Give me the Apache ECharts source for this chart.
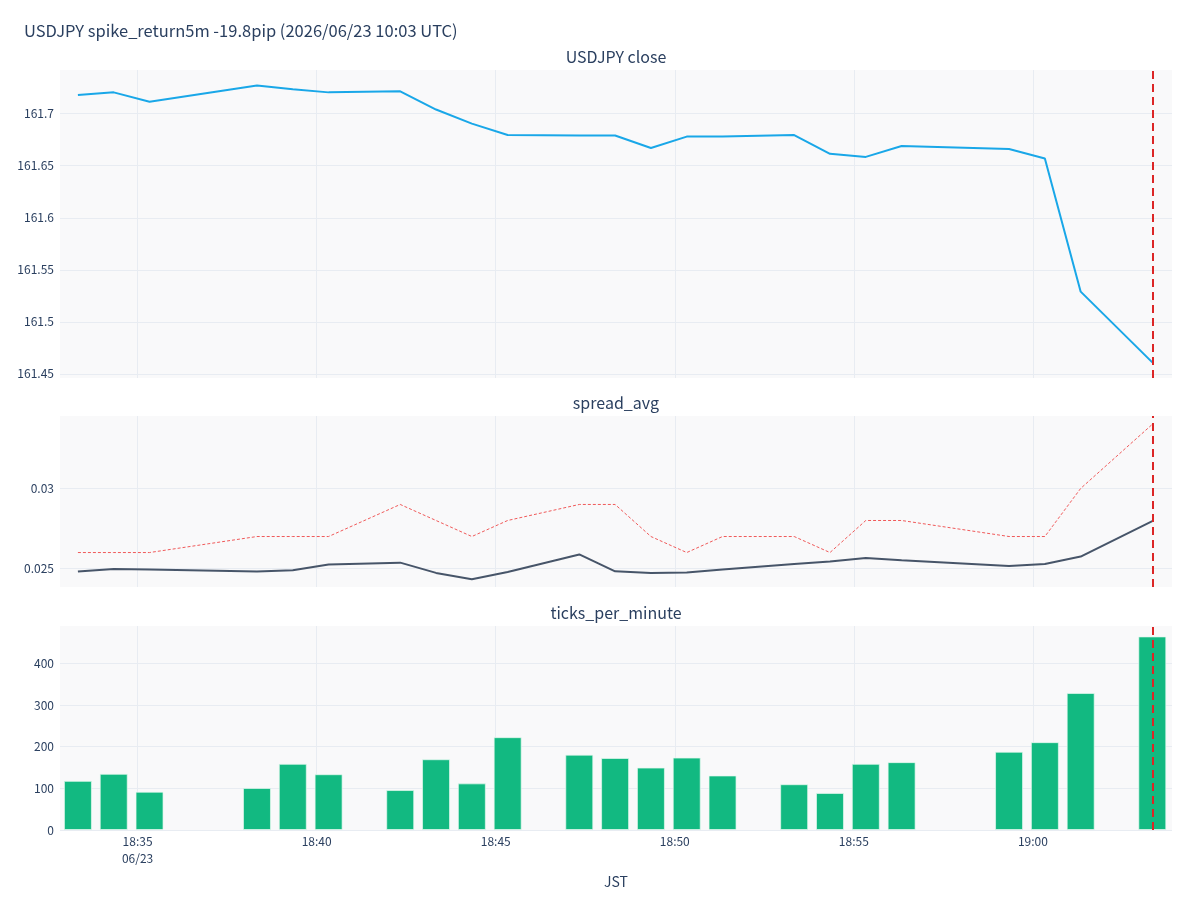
<!DOCTYPE html>
<html lang="ja">
<head>
	<meta charset="UTF-8">
	<title>USDJPY spike</title>
	<script src="https://cdn.jsdelivr.net/npm/echarts@6/dist/echarts.min.js"></script>
	<style>
		html,body{margin:0;padding:0;background:#fff;}
		#main{width:1200px;height:900px;}
	</style>
</head>
<body>
	<div id="main"></div>
	<script>
		var day = '2026-06-23';
		// JST minutes with data
		var times = ['18:33:20','18:34:20','18:35:20','18:38:20','18:39:20','18:40:20','18:42:20','18:43:20','18:44:20','18:45:20',
			'18:47:20','18:48:20','18:49:20','18:50:20','18:51:20','18:53:20','18:54:20','18:55:20','18:56:20','18:59:20',
			'19:00:20','19:01:20','19:03:20'];
		var closeVals = [161.718,161.7205,161.7115,161.727,161.7235,161.7205,161.7215,161.704,161.6905,161.6795,
			161.679,161.679,161.667,161.678,161.678,161.6795,161.6615,161.6585,161.669,161.666,
			161.657,161.529,161.461];
		var spreadAvg = [0.02481,0.02498,0.02494,0.02481,0.02489,0.02525,0.02537,0.02473,0.02433,0.02479,
			0.02588,0.02483,0.02473,0.02475,0.02494,0.02529,0.02544,0.02566,0.02552,0.02516,
			0.02529,0.02575,0.02796];
		var spreadMax = [0.026,0.026,0.026,0.027,0.027,0.027,0.029,0.028,0.027,0.028,
			0.029,0.029,0.027,0.026,0.027,0.027,0.026,0.028,0.028,0.027,
			0.027,0.030,0.034];
		var ticksPerMin = [118,135,92,101,159,134,96,170,112,223,
			181,173,150,174,131,110,89,159,163,188,
			211,329,465];
		var spikeTime = '19:03:20';
		var xTickTimes = ['18:35','18:40','18:45','18:50','18:55','19:00'];
		var priceTicks = [161.45,161.5,161.55,161.6,161.65,161.7];
		var spreadTicks = [0.025,0.03];
		var countTicks = [0,100,200,300,400];

		// times -> ms since midnight (JST wall clock), value axis
		function ts(t){
			var p = t.split(':');
			return ((+p[0])*3600 + (+p[1])*60 + (+(p[2]||0)))*1000;
		}
		function pairs(vals){
			var out = [];
			for(var i=0;i<times.length;i++){
				out.push([ts(times[i]), vals[i]]);
			}
			return out;
		}
		var xTicks = xTickTimes.map(ts);
		var xMin = ts('18:32:50');
		var xMax = ts('19:03:53');
		var txt = '#2a3f5f';
		var gridCol = '#e8ecf2';
		var font = '"Noto Sans CJK JP", "Noto Sans", sans-serif';

		function xAx(idx, labels){
			return {
				type:'value', gridIndex:idx, min:xMin, max:xMax, scale:true,
				axisLine:{show:false},
				axisTick:{show:false, customValues:xTicks},
				splitLine:{show:true, lineStyle:{color:gridCol, width:1}},
				axisLabel:{show:labels, customValues:xTicks, color:txt, fontSize:12, fontFamily:font, lineHeight:17, margin:3,
					formatter:function(v){
						var m = Math.round(v/60000);
						var s = ('0'+Math.floor(m/60)).slice(-2)+':'+('0'+(m%60)).slice(-2);
						if(Math.abs(v - xTicks[0]) < 1){
							return s+'\n'+day.slice(5).replace('-','/');
						}
						return s;
					}},
				name: labels ? 'JST' : '',
				nameLocation:'middle', nameGap:45,
				nameTextStyle:{color:txt, fontSize:14, fontFamily:font}
			};
		}
		function yAx(idx, min, max, ticks){
			return {
				type:'value', gridIndex:idx, min:min, max:max,
				axisLine:{show:false},
				axisTick:{show:false, customValues:ticks},
				splitLine:{show:true, lineStyle:{color:gridCol, width:1}},
				axisLabel:{customValues:ticks, color:txt, fontSize:12, fontFamily:font, margin:6}
			};
		}
		var spikeLine = {
			silent:true, symbol:['none','none'], label:{show:false},
			lineStyle:{color:'#dc2626', type:[8,5], width:2},
			data:[{xAxis:ts(spikeTime)}]
		};

		var myChart = echarts.init(document.getElementById('main'));
		var option = {
			backgroundColor:'#ffffff',
			animation:false,
			title:[
				{text:'USDJPY spike_return5m -19.8pip (2026/06/23 10:03 UTC)', left:19, top:17,
					textStyle:{color:txt, fontSize:16.5, fontWeight:'normal', fontFamily:font}},
				{text:'USDJPY close', left:611, textAlign:'center', top:44,
					textStyle:{color:txt, fontSize:16, fontWeight:'normal', fontFamily:font}},
				{text:'spread_avg', left:611, textAlign:'center', top:390,
					textStyle:{color:txt, fontSize:16, fontWeight:'normal', fontFamily:font}},
				{text:'ticks_per_minute', left:611, textAlign:'center', top:600,
					textStyle:{color:txt, fontSize:16, fontWeight:'normal', fontFamily:font}}
			],
			grid:[
				{left:60, right:28, top:70, height:308, show:true, backgroundColor:'#f9f9fa', borderWidth:0},
				{left:60, right:28, top:416, height:171, show:true, backgroundColor:'#f9f9fa', borderWidth:0},
				{left:60, right:28, top:626, height:204, show:true, backgroundColor:'#f9f9fa', borderWidth:0}
			],
			xAxis:[xAx(0,false), xAx(1,false), xAx(2,true)],
			yAxis:[
				yAx(0, 161.446, 161.742, priceTicks),
				yAx(1, 0.02385, 0.03452, spreadTicks),
				yAx(2, 0, 490, countTicks)
			],
			series:[
				{name:'close', type:'line', xAxisIndex:0, yAxisIndex:0, data:pairs(closeVals),
					symbol:'none', lineStyle:{color:'#19a7e8', width:2}, markLine:spikeLine},
				{name:'spread_max', type:'line', xAxisIndex:1, yAxisIndex:1, data:pairs(spreadMax),
					symbol:'none', lineStyle:{color:'#f05a5a', width:1, type:[3,2]}},
				{name:'spread_avg', type:'line', xAxisIndex:1, yAxisIndex:1, data:pairs(spreadAvg),
					symbol:'none', lineStyle:{color:'#475569', width:2}, markLine:spikeLine},
				{name:'ticks', type:'bar', xAxisIndex:2, yAxisIndex:2, data:pairs(ticksPerMin),
					barWidth:28, itemStyle:{color:'#12b981', borderColor:'rgba(230,250,240,0.7)', borderWidth:1},
					markLine:spikeLine, z:2}
			]
		};
		myChart.setOption(option);
	</script>
</body>
</html>
